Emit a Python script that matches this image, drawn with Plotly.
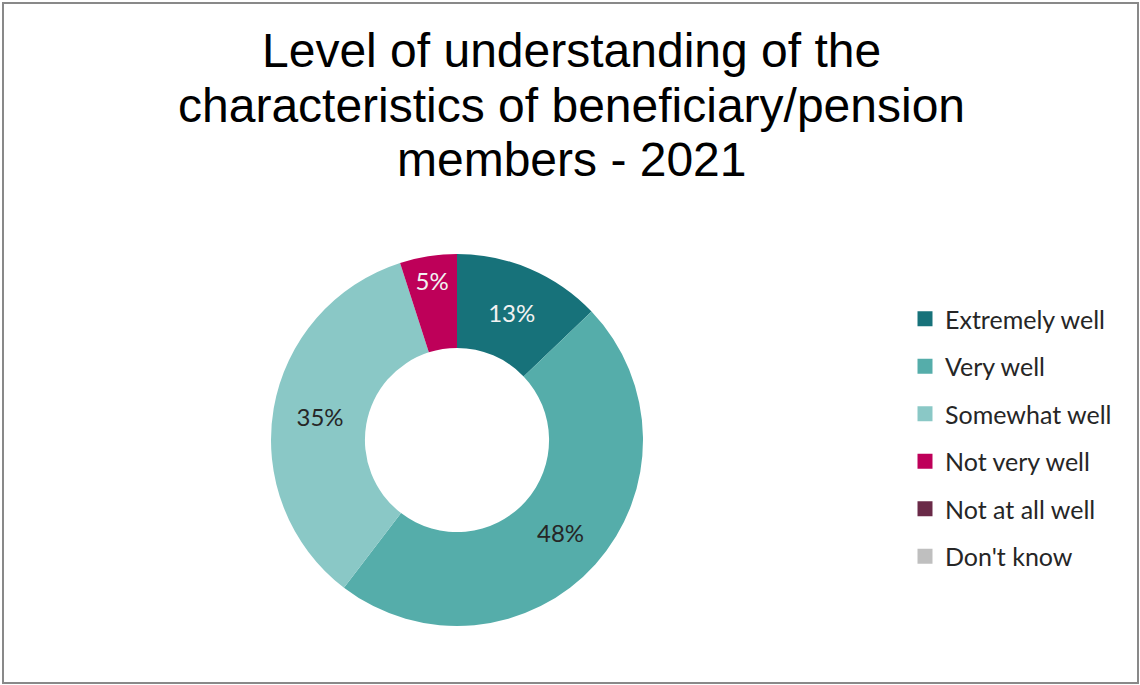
import plotly.graph_objects as go

# Survey responses, share of respondents (%)
categories = ["Extremely well", "Very well", "Somewhat well",
              "Not very well", "Not at all well", "Don't know"]
shares = [13, 48, 35, 5, 0, 0]
colors = ["#17727A", "#55ADAA", "#8AC8C6", "#BE0059", "#6A2A48", "#BFBFBF"]
label_colors = ["#F2F2F2", "#262626", "#262626", "#F2F2F2", "#262626", "#262626"]

title_lines = ["Level of understanding of the",
               "characteristics of beneficiary/pension",
               "members - 2021"]

W, H = 1140, 685
cx, cy, r_out = 457, 440, 186  # donut centre and outer radius in px

fig = go.Figure()

fig.add_trace(go.Pie(
    labels=categories,
    values=shares,
    sort=False,
    direction="clockwise",
    rotation=0,
    hole=0.495,
    marker=dict(colors=colors, line=dict(width=0)),
    texttemplate=[("%{value}%" if v > 0 else "") for v in shares],
    textposition="inside",
    insidetextorientation="horizontal",
    insidetextfont=dict(family="Lato", size=24, color=label_colors),
    showlegend=False,
    hoverinfo="label+value",
    domain=dict(x=[(cx - r_out) / W, (cx + r_out) / W],
                y=[1 - (cy + r_out) / H, 1 - (cy - r_out) / H]),
))

# Legend entries, one per category
for name, col in zip(categories, colors):
    fig.add_trace(go.Scatter(
        x=[None], y=[None], mode="markers", name=name,
        legendgroup=name,
        marker=dict(symbol="square", size=15, color=col),
        hoverinfo="skip",
    ))

annotations = []
for line, ymid in zip(title_lines, [50, 105, 160]):
    annotations.append(dict(
        text=line, xref="paper", yref="paper",
        x=571 / W, y=1 - ymid / H, xanchor="center", yanchor="middle",
        showarrow=False,
        font=dict(family="Liberation Sans", size=48, color="#000000"),
    ))

fig.update_layout(
    width=W, height=H,
    margin=dict(l=0, r=0, t=0, b=0),
    paper_bgcolor="white",
    plot_bgcolor="white",
    xaxis=dict(visible=False),
    yaxis=dict(visible=False),
    annotations=annotations,
    legend=dict(
        x=905 / W, y=1 - 296 / H, xanchor="left", yanchor="top",
        font=dict(family="Lato", size=25, color="#262626"),
        tracegroupgap=12,
        bgcolor="rgba(0,0,0,0)",
    ),
    shapes=[dict(
        type="rect", xref="paper", yref="paper",
        x0=3 / W, x1=1138 / W, y0=1 - 683 / H, y1=1 - 3 / H,
        line=dict(color="#898989", width=2),
    )],
)

fig.write_html("out.html")
